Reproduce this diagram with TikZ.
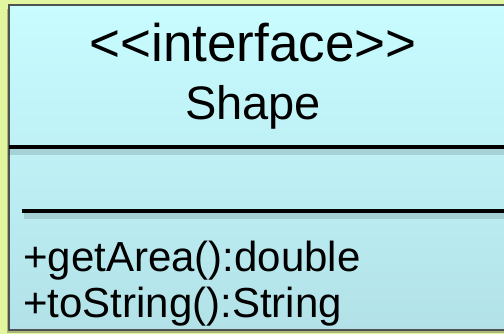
\documentclass[tikz,border=0pt]{standalone}
\usepackage{fontspec}
\setmainfont{Liberation Sans}[Ligatures=TeXOff]
\usetikzlibrary{positioning,calc}
\definecolor{BgLime}{RGB}{226,246,160}
\definecolor{BoxTop}{RGB}{200,252,255}
\definecolor{BoxBottom}{RGB}{178,226,232}
\definecolor{EdgeGray}{RGB}{78,82,82}

\begin{document}
\begin{tikzpicture}[
  x=1pt, y=-1pt,
  clsbox/.style={
    rectangle, draw=EdgeGray, line width=2pt,
    top color=BoxTop, bottom color=BoxBottom,
    minimum width=505pt, minimum height=325pt, inner sep=0pt
  },
  headtxt/.style={
    anchor=base, inner sep=0pt, text=black,
    font=\fontsize{53}{60}\selectfont
  },
  nametxt/.style={
    anchor=base, inner sep=0pt, text=black,
    font=\fontsize{47}{54}\selectfont
  },
  optxt/.style={
    anchor=base west, inner sep=0pt, text=black,
    font=\fontsize{42}{48}\selectfont
  },
  sepline/.style={draw=black, line width=4.5pt},
  sepshadow/.style={draw=black, opacity=0.12, line width=6pt}
]

%% Page and background
\useasboundingbox (0,0) rectangle (504,334);
\fill[BgLime] (0,0) rectangle (504,334);
\clip (0,0) rectangle (504,334);

%% Class box
\fill[black, opacity=0.25] (7,9) rectangle (518,333);
\node[clsbox] (cls) at (261.5,167.5) {};

%% Name compartment
\node[headtxt] (stereo) at (253,62) {<\kern0pt<interface>\kern0pt>};
\node[nametxt] (name) at (253,120) {Shape};

%% Separators
\coordinate (sepAw) at (9,147);
\coordinate (sepAe) at (510,147);
\coordinate (sepBw) at (22,211);
\coordinate (sepBe) at (510,211);
\draw[sepshadow] ($(sepAw)+(0,5)$) -- ($(sepAe)+(0,5)$);
\draw[sepshadow] ($(sepBw)+(2,5)$) -- ($(sepBe)+(0,5)$);
\draw[sepline] (sepAw) -- (sepAe);
\draw[sepline] (sepBw) -- (sepBe);

%% Operations
\node[optxt] (opArea) at (23,272) {+getArea():double};
\node[optxt] (opStr) at (23,317) {+toString():String};

\end{tikzpicture}
\end{document}
